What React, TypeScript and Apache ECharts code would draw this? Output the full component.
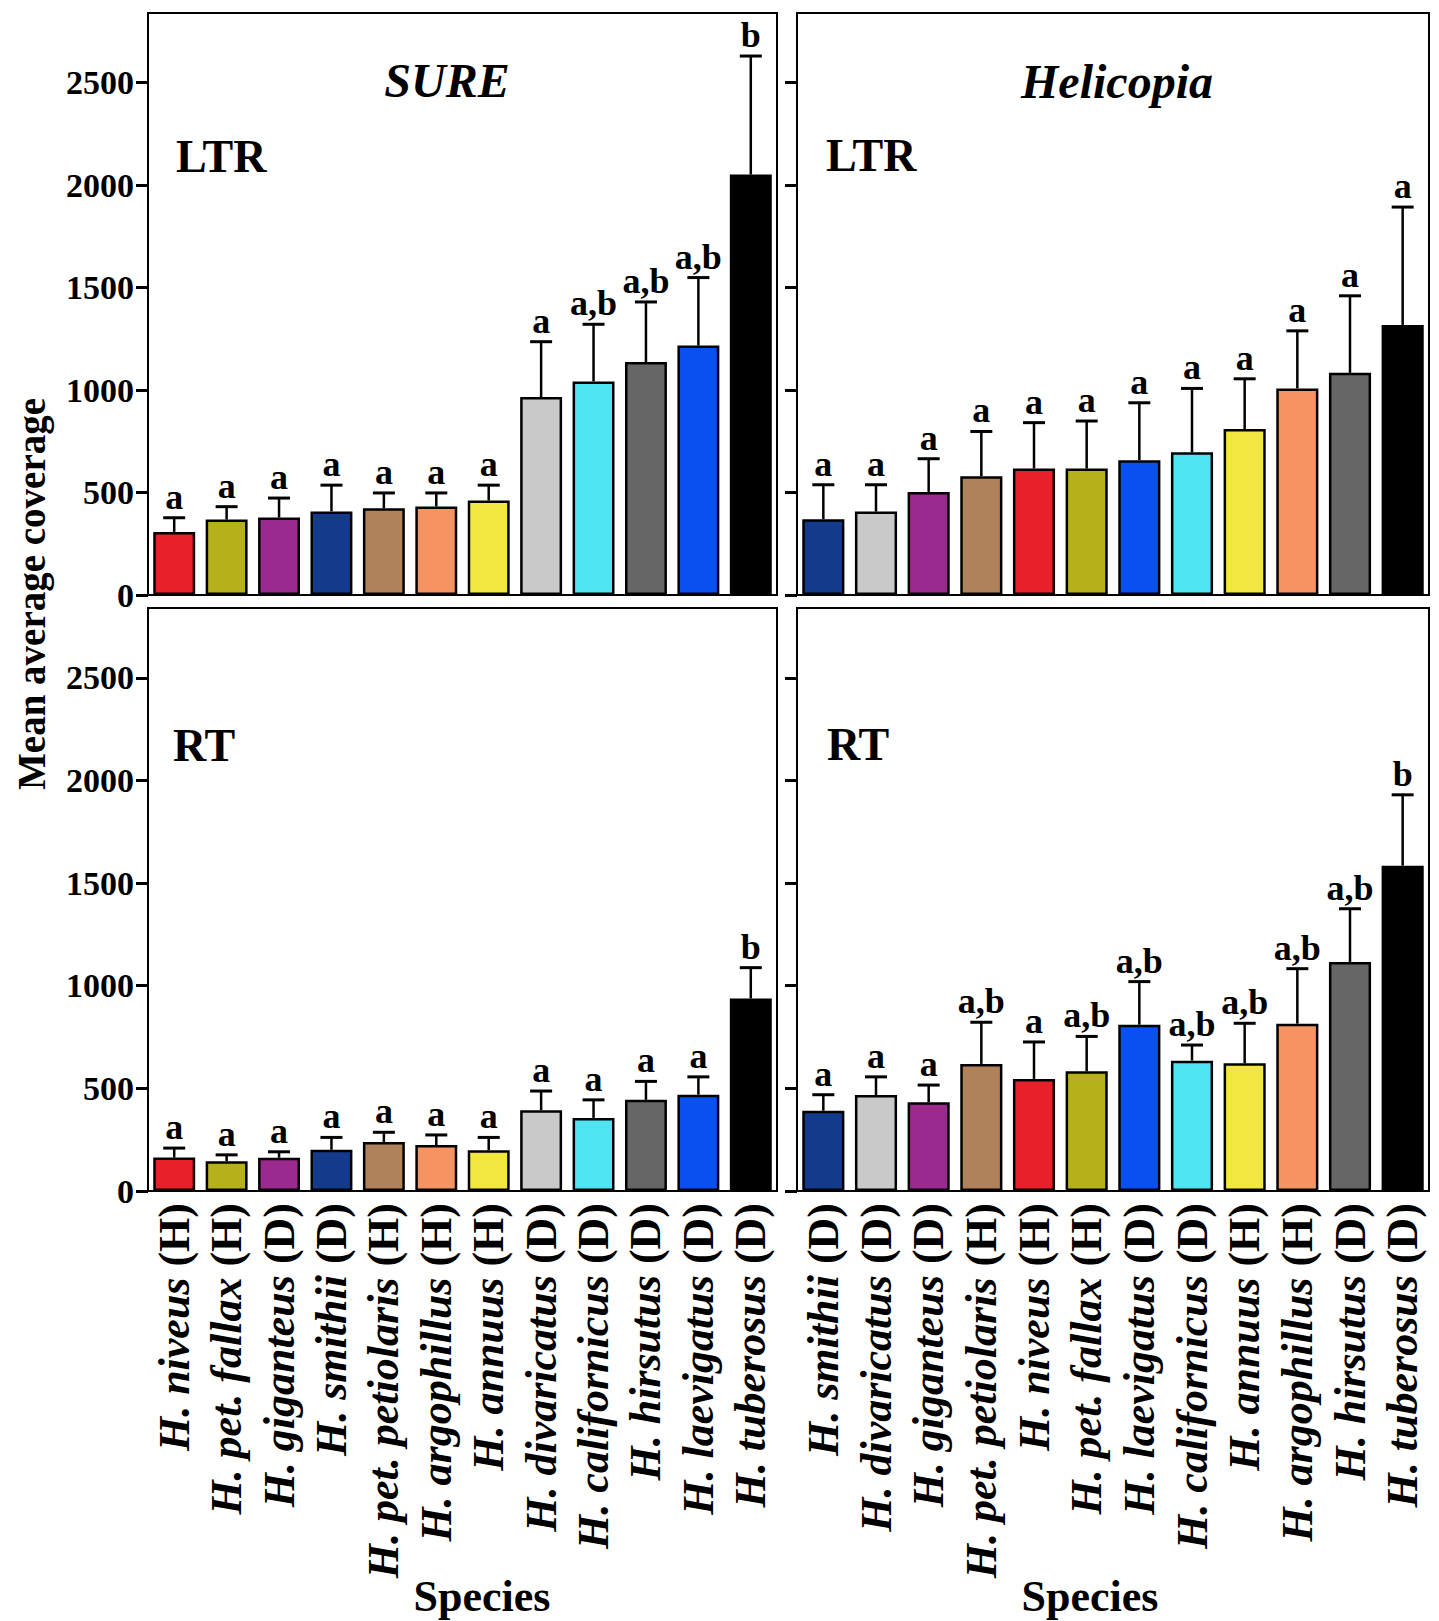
import React, { useEffect, useRef } from "react";
import * as echarts from "echarts";

// ---- Data ----
const sureSpecies = [
  "H. niveus", "H. pet. fallax", "H. giganteus", "H. smithii", "H. pet. petiolaris", "H. argophillus",
  "H. annuus", "H. divaricatus", "H. californicus", "H. hirsutus", "H. laevigatus", "H. tuberosus",
];
const sureGenome = ["H", "H", "D", "D", "H", "H", "H", "D", "D", "D", "D", "D"];
const sureColors = [
  "#e8202a", "#b5b01c", "#9b2a8f", "#143a8c", "#b0825a", "#f59462",
  "#f2e640", "#c9c9c9", "#50e3f2", "#666666", "#0a50f0", "#000000",
];
const sureLtrMean = [308, 368, 378, 408, 423, 432, 461, 966, 1042, 1137, 1217, 2052];
const sureLtrUpper = [377, 431, 473, 536, 498, 498, 536, 1236, 1321, 1430, 1549, 2630];
const sureLtrLetters = ["a", "a", "a", "a", "a", "a", "a", "a", "a,b", "a,b", "a,b", "b"];
const sureRtMean = [163, 145, 162, 201, 239, 224, 199, 393, 356, 444, 469, 938];
const sureRtUpper = [209, 176, 191, 261, 286, 273, 261, 487, 444, 534, 556, 1088];
const sureRtLetters = ["a", "a", "a", "a", "a", "a", "a", "a", "a", "a", "a", "b"];

const heliSpecies = [
  "H. smithii", "H. divaricatus", "H. giganteus", "H. pet. petiolaris", "H. niveus", "H. pet. fallax",
  "H. laevigatus", "H. californicus", "H. annuus", "H. argophillus", "H. hirsutus", "H. tuberosus",
];
const heliGenome = ["D", "D", "D", "H", "H", "H", "D", "D", "H", "H", "D", "D"];
const heliColors = [
  "#143a8c", "#c9c9c9", "#9b2a8f", "#b0825a", "#e8202a", "#b5b01c",
  "#0a50f0", "#50e3f2", "#f2e640", "#f59462", "#666666", "#000000",
];
const heliLtrMean = [370, 407, 503, 579, 617, 617, 658, 696, 810, 1008, 1084, 1318];
const heliLtrUpper = [538, 538, 665, 798, 841, 849, 938, 1008, 1055, 1289, 1460, 1893];
const heliLtrLetters = ["a", "a", "a", "a", "a", "a", "a", "a", "a", "a", "a", "a"];
const heliRtMean = [391, 468, 432, 619, 546, 583, 810, 635, 622, 815, 1116, 1585];
const heliRtUpper = [469, 556, 516, 822, 726, 753, 1020, 711, 817, 1083, 1375, 1930];
const heliRtLetters = ["a", "a", "a", "a,b", "a", "a,b", "a,b", "a,b", "a,b", "a,b", "a,b", "b"];

const yTicks = [0, 500, 1000, 1500, 2000, 2500];
const yMax = 2840;

const SERIF = '"Liberation Serif", "Times New Roman", serif';

export default function App() {
  const ref = useRef<HTMLDivElement>(null);

  useEffect(() => {
    document.body.style.margin = "0";
    if (!ref.current) return;
    const chart = echarts.init(ref.current, undefined, { renderer: "svg" });

    const grids = [
      { left: 148, top: 13, width: 629, height: 582 },
      { left: 797, top: 13, width: 632, height: 582 },
      { left: 148, top: 608, width: 629, height: 583 },
      { left: 797, top: 608, width: 632, height: 583 },
    ].map((g) => ({ ...g, show: true, borderColor: "#000", borderWidth: 2, backgroundColor: "#fff" }));

    const panels = [
      { species: sureSpecies, genome: sureGenome, colors: sureColors, mean: sureLtrMean, upper: sureLtrUpper, letters: sureLtrLetters, showX: false, showY: true },
      { species: heliSpecies, genome: heliGenome, colors: heliColors, mean: heliLtrMean, upper: heliLtrUpper, letters: heliLtrLetters, showX: false, showY: false },
      { species: sureSpecies, genome: sureGenome, colors: sureColors, mean: sureRtMean, upper: sureRtUpper, letters: sureRtLetters, showX: true, showY: true },
      { species: heliSpecies, genome: heliGenome, colors: heliColors, mean: heliRtMean, upper: heliRtUpper, letters: heliRtLetters, showX: true, showY: false },
    ];

    const xAxis = panels.map((p, i) => ({
      type: "category",
      gridIndex: i,
      data: p.species,
      boundaryGap: true,
      axisLine: { show: true, lineStyle: { color: "#000", width: 2 } },
      axisTick: { show: false },
      axisLabel: {
        show: p.showX,
        interval: 0,
        rotate: 90,
        margin: 12,
        formatter: (v: string, idx: number) => `{i|${v} }{b|(${p.genome[idx]})}`,
        rich: {
          i: { fontFamily: SERIF, fontSize: 44, fontWeight: "bold", fontStyle: "italic", color: "#000" },
          b: { fontFamily: SERIF, fontSize: 44, fontWeight: "bold", color: "#000" },
        },
      },
      splitLine: { show: false },
    }));

    const yAxis = panels.map((p, i) => ({
      type: "value",
      gridIndex: i,
      min: 0,
      max: yMax,
      interval: 500,
      axisLine: { show: true, lineStyle: { color: "#000", width: 2 } },
      axisTick: { show: true, inside: false, length: 12, lineStyle: { color: "#000", width: 3 }, customValues: yTicks },
      axisLabel: {
        show: p.showY,
        customValues: yTicks,
        margin: 14,
        fontFamily: SERIF,
        fontSize: 34,
        fontWeight: "bold",
        color: "#000",
        formatter: (v: number) => (yTicks.indexOf(v) >= 0 ? String(v) : ""),
      },
      splitLine: { show: false },
    }));

    const series: any[] = [];
    panels.forEach((p, i) => {
      series.push({
        type: "bar",
        xAxisIndex: i,
        yAxisIndex: i,
        barWidth: "80%",
        data: p.mean.map((v, k) => ({
          value: v,
          itemStyle: { color: p.colors[k], borderColor: "#000", borderWidth: 2.5 },
        })),
        z: 2,
      });
      const letters = p.letters;
      series.push({
        type: "custom",
        xAxisIndex: i,
        yAxisIndex: i,
        z: 3,
        data: p.mean.map((v, k) => [k, v, p.upper[k]]),
        renderItem: (params: any, api: any) => {
          const idx = api.value(0);
          const m = api.value(1);
          const u = api.value(2);
          const p0 = api.coord([idx, m]);
          const p1 = api.coord([idx, u]);
          const half = 11;
          return {
            type: "group",
            children: [
              { type: "line", shape: { x1: p0[0], y1: p0[1], x2: p1[0], y2: p1[1] }, style: { stroke: "#000", lineWidth: 2.5 } },
              { type: "line", shape: { x1: p1[0] - half, y1: p1[1], x2: p1[0] + half, y2: p1[1] }, style: { stroke: "#000", lineWidth: 3 } },
              {
                type: "text",
                x: p1[0],
                y: p1[1] - 3,
                style: {
                  text: letters[params.dataIndex],
                  fill: "#000",
                  fontFamily: SERIF,
                  fontSize: 36,
                  fontWeight: "bold",
                  align: "center",
                  verticalAlign: "bottom",
                },
              },
            ],
          };
        },
      });
    });

    const txt = (text: string, x: number, y: number, size: number, italic: boolean, align = "center", rotation = 0) => ({
      type: "text",
      x,
      y,
      rotation,
      z: 10,
      style: {
        text,
        fill: "#000",
        fontFamily: SERIF,
        fontSize: size,
        fontWeight: "bold",
        fontStyle: italic ? "italic" : "normal",
        align,
        verticalAlign: "middle",
      },
    });

    const graphic = [
      txt("SURE", 447, 80, 48, true),
      txt("Helicopia", 1117, 81, 48, true),
      txt("LTR", 176, 156, 46, false, "left"),
      txt("LTR", 826, 155, 46, false, "left"),
      txt("RT", 173, 745, 46, false, "left"),
      txt("RT", 827, 744, 46, false, "left"),
      txt("Mean average coverage", 31, 594, 39, false, "center", Math.PI / 2),
      txt("Species", 482, 1596, 44, false),
      txt("Species", 1090, 1596, 44, false),
    ];

    chart.setOption({
      animation: false,
      backgroundColor: "#fff",
      grid: grids,
      xAxis,
      yAxis,
      series,
      graphic,
    });

    return () => chart.dispose();
  }, []);

  return <div ref={ref} style={{ width: 1439, height: 1621 }} />;
}
